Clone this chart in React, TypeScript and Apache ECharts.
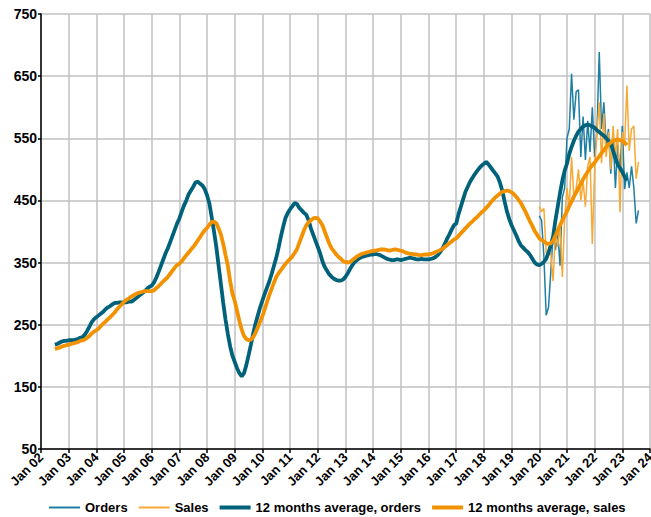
import React, { useEffect, useRef } from 'react';
import * as echarts from 'echarts';

// Monthly data. 12-month averages start Jul 2002, raw monthly series start Jan 2020.
const AVG_START_YEAR = 2002;
const AVG_START_MONTH = 7;
const RAW_START_YEAR = 2020;
const RAW_START_MONTH = 1;

const ordersAvg = [
  // 2002 Jul-Dec
  218, 219, 221, 223, 224, 224,
  // 2003
  225, 225, 225, 226, 227, 229, 230, 234, 240, 247, 254, 259,
  // 2004
  262, 265, 268, 271, 275, 278, 280, 283, 285, 285, 286, 286,
  // 2005
  286, 286, 287, 287, 289, 292, 295, 298, 301, 304, 308, 311,
  // 2006
  313, 318, 326, 335, 345, 355, 365, 373, 383, 393, 403, 413,
  // 2007
  421, 432, 442, 450, 460, 466, 472, 479, 480, 477, 474, 468,
  // 2008
  458, 445, 423, 400, 375, 345, 315, 285, 258, 235, 215, 200,
  // 2009
  190, 180, 172, 167, 172, 185, 201, 218, 236, 252, 265, 278,
  // 2010
  289, 300, 310, 320, 332, 345, 358, 374, 392, 408, 422, 430,
  // 2011
  436, 441, 446, 444, 438, 434, 430, 427, 418, 405, 395, 385,
  // 2012
  375, 365, 352, 343, 337, 331, 327, 324, 322, 321, 321, 323,
  // 2013
  327, 333, 340, 346, 351, 354, 357, 359, 360, 361, 362, 363,
  // 2014
  363, 364, 363, 362, 360, 358, 356, 355, 354, 354, 355, 355,
  // 2015
  354, 355, 356, 357, 358, 357, 356, 355, 355, 356, 355, 355,
  // 2016
  355, 356, 357, 359, 362, 367, 372, 380, 388, 395, 403, 410,
  // 2017
  413, 428, 440, 452, 464, 472, 480, 486, 492, 497, 502, 506,
  // 2018
  509, 512, 508, 503, 498, 493, 488, 478, 465, 448, 432, 420,
  // 2019
  410, 402, 394, 385, 378, 374, 370, 367, 362, 356, 350, 347,
  // 2020
  346, 348, 351, 356, 366, 378, 392, 418, 440, 462, 482, 498,
  // 2021
  509, 525, 536, 546, 554, 561, 565, 569, 571, 572, 571, 569,
  // 2022
  567, 563, 560, 557, 554, 550, 546, 541, 530, 518, 508, 502,
  // 2023
  496, 488, 482,
];

const salesAvg = [
  // 2002 Jul-Dec
  211, 212, 213, 215, 216, 217,
  // 2003
  218, 219, 220, 221, 222, 224, 225, 226, 229, 232, 236, 239,
  // 2004
  241, 244, 248, 252, 255, 259, 262, 266, 270, 275, 279, 283,
  // 2005
  287, 290, 292, 295, 297, 299, 301, 302, 303, 304, 304, 304,
  // 2006
  304, 305, 309, 312, 316, 320, 323, 327, 332, 337, 342, 346,
  // 2007
  348, 352, 357, 362, 366, 371, 375, 380, 386, 391, 397, 402,
  // 2008
  406, 411, 415, 416, 413, 405, 395, 380, 362, 345, 320, 300,
  // 2009
  288, 272, 256, 242, 232, 227, 225, 226, 230, 237, 246, 255,
  // 2010
  264, 275, 287, 298, 308, 318, 327, 333, 338, 343, 348, 352,
  // 2011
  356, 360, 366, 372, 382, 392, 402, 410, 415, 418, 421, 422,
  // 2012
  421, 416, 410, 400, 390, 380, 373, 368, 363, 359, 356, 352,
  // 2013
  351, 350, 351, 354, 357, 360, 362, 364, 365, 366, 367, 368,
  // 2014
  369, 369, 370, 371, 371, 371, 370, 369, 370, 371, 371, 370,
  // 2015
  369, 368, 366, 365, 364, 364, 363, 363, 362, 362, 363, 363,
  // 2016
  363, 364, 365, 367, 368, 370, 372, 375, 378, 381, 384, 387,
  // 2017
  389, 393, 397, 401, 405, 409, 413, 416, 420, 423, 427, 431,
  // 2018
  434, 438, 442, 447, 451, 455, 458, 461, 464, 465, 466, 465,
  // 2019
  463, 460, 456, 451, 446, 439, 432, 424, 416, 409, 401, 395,
  // 2020
  389, 386, 384, 381, 380, 381, 385, 393, 402, 410, 418, 425,
  // 2021
  432, 441, 448, 456, 463, 470, 477, 484, 490, 496, 502, 507,
  // 2022
  511, 516, 521, 526, 531, 536, 540, 543, 546, 547, 548, 547,
  // 2023
  546, 543, 539,
];

const ordersRaw = [
  // 2020
  425, 418, 360, 265, 278, 335, 395, 370, 400, 345, 455, 470,
  // 2021
  550, 565, 654, 580, 625, 628, 520, 585, 515, 578, 528, 600,
  // 2022
  520, 560, 689, 565, 608, 540, 565, 493, 555, 470, 540, 495,
  // 2023 Jan-Aug
  570, 468, 495, 470, 505, 470, 413, 434,
];

const salesRaw = [
  // 2020
  440, 432, 437, 365, 362, 365, 320, 400, 375, 410, 327, 420,
  // 2021
  470, 440, 520, 455, 470, 500, 450, 480, 440, 505, 520, 380,
  // 2022
  500, 560, 608, 510, 590, 520, 560, 500, 570, 520, 565, 431,
  // 2023 Jan-Aug
  560, 540, 635, 530, 565, 570, 485, 512,
];

const Y_MIN = 50;
const Y_MAX = 750;
const Y_INTERVAL = 100;
const X_MIN_YEAR = 2002;
const X_MAX_YEAR = 2024;

const SERIES_NAMES = [
  'Orders',
  'Sales',
  '12 months average, orders',
  '12 months average, sales',
];

const COLORS = ['#1f7fa3', '#f7a935', '#00627a', '#f39200'];
const WIDTHS = [1.5, 1.5, 3.8, 3.8];

function monthly(startYear: number, startMonth: number, vals: number[]) {
  return vals.map((v, i) => [startYear + (startMonth - 1 + i) / 12, v]);
}

const FONT = 'Arial, "Liberation Sans", sans-serif';

const thinIcon = 'path://M0,0H31V2H0Z';
const thickIcon = 'path://M0,0H31V4H0Z';

export default function App() {
  const ref = useRef<HTMLDivElement>(null);

  useEffect(() => {
    if (!ref.current) return;
    const chart = echarts.init(ref.current, undefined, { renderer: 'svg' });
    const seriesData = [
      monthly(RAW_START_YEAR, RAW_START_MONTH, ordersRaw),
      monthly(RAW_START_YEAR, RAW_START_MONTH, salesRaw),
      monthly(AVG_START_YEAR, AVG_START_MONTH, ordersAvg),
      monthly(AVG_START_YEAR, AVG_START_MONTH, salesAvg),
    ];
    chart.setOption({
      animation: false,
      backgroundColor: '#ffffff',
      textStyle: { fontFamily: FONT },
      grid: {
        left: 41,
        right: 1,
        top: 14,
        bottom: 68,
        containLabel: false,
        outerBoundsMode: 'none',
      },
      legend: {
        data: SERIES_NAMES.map((name, i) => ({
          name,
          icon: i < 2 ? thinIcon : thickIcon,
          itemStyle: { color: COLORS[i], borderWidth: 0 },
        })),
        left: 49,
        top: 501,
        itemWidth: 31,
        itemHeight: 14,
        itemGap: 11,
        padding: 0,
        symbolKeepAspect: true,
        itemStyle: { borderWidth: 0 },
        textStyle: { fontFamily: FONT, fontSize: 13, fontWeight: 'bold', color: '#000' },
      },
      xAxis: {
        type: 'value',
        min: X_MIN_YEAR,
        max: X_MAX_YEAR,
        interval: 1,
        axisLine: { show: true, onZero: false, lineStyle: { color: '#000', width: 1.5 } },
        axisTick: { show: true, length: 4, lineStyle: { color: '#000', width: 1.5 } },
        splitLine: { show: true, lineStyle: { color: '#c0c0c0', width: 1.5 } },
        axisLabel: {
          rotate: 45,
          margin: 6,
          color: '#000',
          fontFamily: FONT,
          fontSize: 13,
          fontWeight: 'bold',
          formatter: (v: number) => 'Jan ' + String(Math.round(v) % 100).padStart(2, '0'),
        },
      },
      yAxis: {
        type: 'value',
        min: Y_MIN,
        max: Y_MAX,
        interval: Y_INTERVAL,
        axisLine: { show: true, lineStyle: { color: '#000', width: 1.5 } },
        axisTick: { show: true, length: 3, lineStyle: { color: '#000', width: 1.5 } },
        splitLine: { show: true, lineStyle: { color: '#c0c0c0', width: 1.5 } },
        axisLabel: {
          margin: 4,
          color: '#000',
          fontFamily: FONT,
          fontSize: 14,
          fontWeight: 'bold',
        },
      },
      series: SERIES_NAMES.map((name, i) => ({
        name,
        type: 'line',
        symbol: 'none',
        data: seriesData[i],
        color: COLORS[i],
        lineStyle: { color: COLORS[i], width: WIDTHS[i] },
      })),
    });
    return () => chart.dispose();
  }, []);

  return (
    <div
      ref={ref}
      style={{ position: 'absolute', left: 0, top: 0, width: 651, height: 517 }}
    />
  );
}
